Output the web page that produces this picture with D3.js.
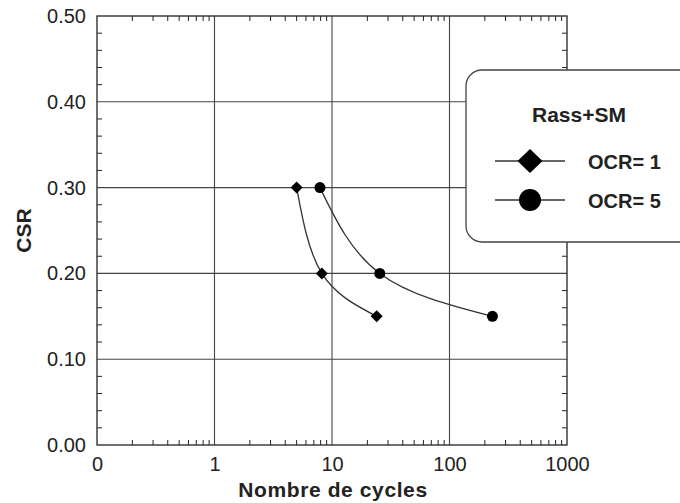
<!DOCTYPE html>
<html>
<head>
<meta charset="utf-8">
<script src="https://cdn.jsdelivr.net/npm/d3@7"></script>
<style>
  html, body { margin: 0; padding: 0; background: #fff; }
  svg { display: block; font-family: "Liberation Sans", Arial, sans-serif; }
</style>
</head>
<body>
<svg id="chart" width="680" height="503"></svg>
<script>
// Cyclic resistance: CSR versus number of cycles (log scale)
const ocr1Cycles = [5.0, 8.2, 24];
const ocr1Csr = [0.30, 0.20, 0.15];
const ocr5Cycles = [7.9, 25.5, 232];
const ocr5Csr = [0.30, 0.20, 0.15];

const xTickValues = [0.1, 1, 10, 100, 1000];
const xTickLabels = ["0", "1", "10", "100", "1000"];
const yTickValues = [0, 0.1, 0.2, 0.3, 0.4, 0.5];
const yTickLabels = ["0.00", "0.10", "0.20", "0.30", "0.40", "0.50"];

const legendTitle = "Rass+SM";
const seriesNames = ["OCR= 1", "OCR= 5"];

const svg = d3.select("#chart");
const m = { left: 97, right: 567, top: 16, bottom: 445 };
const ink = "#222";
const gridInk = "#444";
const fontFam = "Liberation Sans, Arial, sans-serif";

const x = d3.scaleLog().domain([0.1, 1000]).range([m.left, m.right]);
const y = d3.scaleLinear().domain([0, 0.5]).range([m.bottom, m.top]);

const plot = svg.append("g");

// major grid
plot.selectAll("line.gx").data(xTickValues.slice(1, -1)).join("line")
  .attr("x1", d => x(d)).attr("x2", d => x(d))
  .attr("y1", m.top).attr("y2", m.bottom)
  .attr("stroke", gridInk).attr("stroke-width", 1.1);
plot.selectAll("line.gy").data(yTickValues.slice(1, -1)).join("line")
  .attr("y1", d => y(d)).attr("y2", d => y(d))
  .attr("x1", m.left).attr("x2", m.right)
  .attr("stroke", gridInk).attr("stroke-width", 1.1);

// minor ticks (inward) on all four sides
const minorX = [];
for (let dec = 0.1; dec < 1000; dec *= 10) {
  for (let k = 2; k <= 9; k++) minorX.push(dec * k);
}
const minorY = d3.range(0.02, 0.5, 0.02).filter(v => Math.abs(v * 10 - Math.round(v * 10)) > 1e-6);
const tickLen = 5;
plot.selectAll("line.mxb").data(minorX).join("line")
  .attr("x1", d => x(d)).attr("x2", d => x(d))
  .attr("y1", m.bottom).attr("y2", m.bottom - tickLen)
  .attr("stroke", ink).attr("stroke-width", 1);
plot.selectAll("line.mxt").data(minorX).join("line")
  .attr("x1", d => x(d)).attr("x2", d => x(d))
  .attr("y1", m.top).attr("y2", m.top + tickLen)
  .attr("stroke", ink).attr("stroke-width", 1);
plot.selectAll("line.myl").data(minorY).join("line")
  .attr("y1", d => y(d)).attr("y2", d => y(d))
  .attr("x1", m.left).attr("x2", m.left + tickLen)
  .attr("stroke", ink).attr("stroke-width", 1);
plot.selectAll("line.myr").data(minorY).join("line")
  .attr("y1", d => y(d)).attr("y2", d => y(d))
  .attr("x1", m.right).attr("x2", m.right - tickLen)
  .attr("stroke", ink).attr("stroke-width", 1);

// frame
plot.append("rect")
  .attr("x", m.left).attr("y", m.top)
  .attr("width", m.right - m.left).attr("height", m.bottom - m.top)
  .attr("fill", "none").attr("stroke", ink).attr("stroke-width", 1.3);

// tick labels via d3 axes (tick lines hidden, labels only)
const xAxis = d3.axisBottom(x).tickValues(xTickValues)
  .tickFormat((d, i) => xTickLabels[i]).tickSize(0).tickPadding(12);
const gx = svg.append("g").attr("transform", `translate(0,${m.bottom})`).call(xAxis);
gx.select(".domain").remove();
gx.selectAll("text").attr("font-size", 20).attr("fill", ink).attr("font-family", fontFam);

const yAxis = d3.axisLeft(y).tickValues(yTickValues)
  .tickFormat((d, i) => yTickLabels[i]).tickSize(0).tickPadding(11);
const gy = svg.append("g").attr("transform", `translate(${m.left},0)`).call(yAxis);
gy.select(".domain").remove();
gy.selectAll("text").attr("font-size", 20).attr("fill", ink).attr("font-family", fontFam);

// axis titles
svg.append("text").attr("x", 333).attr("y", 497)
  .attr("text-anchor", "middle").attr("font-size", 21).attr("font-weight", "bold")
  .attr("letter-spacing", 0.6).attr("fill", ink).text("Nombre de cycles");
svg.append("text").attr("transform", `translate(31,${(m.top + m.bottom) / 2}) rotate(-90)`)
  .attr("text-anchor", "middle").attr("font-size", 21).attr("font-weight", "bold")
  .attr("fill", ink).text("CSR");

// series curves
const line = d3.line().x(d => x(d[0])).y(d => y(d[1])).curve(d3.curveNatural);
const s1 = ocr1Cycles.map((c, i) => [c, ocr1Csr[i]]);
const s5 = ocr5Cycles.map((c, i) => [c, ocr5Csr[i]]);
[s1, s5].forEach(s => {
  plot.append("path").attr("d", line(s))
    .attr("fill", "none").attr("stroke", "#333").attr("stroke-width", 1.3);
});

function drawDiamond(g, cx, cy, rx, ry) {
  g.append("path")
    .attr("d", `M${cx},${cy - ry}L${cx + rx},${cy}L${cx},${cy + ry}L${cx - rx},${cy}Z`)
    .attr("fill", "#000");
}
s1.forEach(d => drawDiamond(plot, x(d[0]), y(d[1]), 6, 6));
plot.selectAll("circle.p5").data(s5).join("circle")
  .attr("cx", d => x(d[0])).attr("cy", d => y(d[1])).attr("r", 5.5)
  .attr("fill", "#000");

// legend box
const lg = svg.append("g");
lg.append("rect").attr("x", 466).attr("y", 70).attr("width", 240).attr("height", 172)
  .attr("rx", 16).attr("ry", 16)
  .attr("fill", "#fff").attr("stroke", "#444").attr("stroke-width", 1.3);
lg.append("text").attr("x", 579).attr("y", 122).attr("text-anchor", "middle")
  .attr("font-size", 21).attr("font-weight", "bold").attr("fill", ink).text(legendTitle);

const rows = [161, 200];
rows.forEach((ry, i) => {
  lg.append("line").attr("x1", 495).attr("x2", 565).attr("y1", ry).attr("y2", ry)
    .attr("stroke", "#333").attr("stroke-width", 1.3);
  if (i === 0) drawDiamond(lg, 530, ry, 12.5, 12);
  else lg.append("circle").attr("cx", 530).attr("cy", ry).attr("r", 11).attr("fill", "#000");
  lg.append("text").attr("x", 588).attr("y", ry + 8).attr("font-size", 20)
    .attr("font-weight", "bold").attr("fill", ink).text(seriesNames[i]);
});
</script>
</body>
</html>
